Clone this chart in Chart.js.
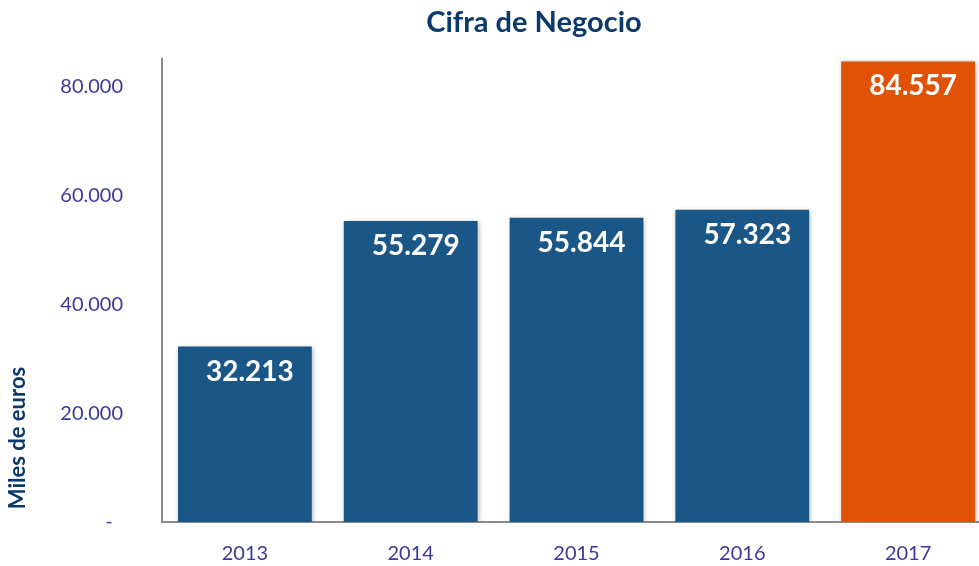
<!DOCTYPE html>
<html>
<head>
<meta charset="utf-8">
<script src="https://cdn.jsdelivr.net/npm/chart.js@4.4.1/dist/chart.umd.min.js"></script>
<style>
  html, body { margin: 0; padding: 0; overflow: hidden; background: #fff; }
  #wrap { position: relative; width: 1000px; height: 566px; overflow: hidden; }
  #chart { display: block; }
  #title {
    position: absolute; left: 0; top: 3px; width: 1068px; text-align: center;
    font: bold 29px Lato, sans-serif; color: #0b3a6a;
  }
</style>
</head>
<body>
<div id="wrap">
  <canvas id="chart" width="1000" height="566"></canvas>
  <div id="title">Cifra de Negocio</div>
</div>
<script>
/* Cifra de Negocio — miles de euros */

const years = ['2013', '2014', '2015', '2016', '2017'];
const revenue = [32213, 55279, 55844, 57323, 84557];
const barColors = ['#1a5686', '#1a5686', '#1a5686', '#1a5686', '#e05206'];
const yTicks = [0, 20000, 40000, 60000, 80000];

const fmt = v => v.toString().replace(/\B(?=(\d{3})+(?!\d))/g, '.');

const barShadow = {
  id: 'barShadow',
  beforeDatasetsDraw(chart) {
    const ctx = chart.ctx;
    ctx.save();
    ctx.shadowColor = 'rgba(0,0,0,0.35)';
    ctx.shadowBlur = 5;
    ctx.shadowOffsetX = 1;
    ctx.shadowOffsetY = 1;
  },
  afterDatasetsDraw(chart) {
    chart.ctx.restore();
  }
};

const valueLabels = {
  id: 'valueLabels',
  afterDatasetsDraw(chart) {
    const ctx = chart.ctx;
    const meta = chart.getDatasetMeta(0);
    ctx.save();
    ctx.fillStyle = '#fff';
    ctx.font = 'bold 28px Lato, sans-serif';
    ctx.textAlign = 'center';
    ctx.textBaseline = 'middle';
    meta.data.forEach((bar, i) => {
      ctx.fillText(fmt(revenue[i]), bar.x + 5, bar.y + 25);
    });
    ctx.restore();
  }
};

const yTitle = {
  id: 'yTitle',
  afterDraw(chart) {
    const ctx = chart.ctx;
    ctx.save();
    ctx.translate(18, 438);
    ctx.rotate(-Math.PI / 2);
    ctx.fillStyle = '#0b3a6a';
    ctx.font = 'bold 22px Lato, sans-serif';
    ctx.textAlign = 'center';
    ctx.textBaseline = 'middle';
    ctx.fillText('Miles de euros', 0, 0);
    ctx.restore();
  }
};

new Chart(document.getElementById('chart'), {
  type: 'bar',
  data: {
    labels: years,
    datasets: [{
      data: revenue,
      backgroundColor: barColors,
      borderWidth: 0,
      barPercentage: 0.807,
      categoryPercentage: 1
    }]
  },
  options: {
    responsive: false,
    animation: false,
    layout: { padding: { top: 59, right: 9, left: 0, bottom: 0 } },
    plugins: {
      legend: { display: false },
      title: { display: false },
      tooltip: { enabled: false }
    },
    scales: {
      x: {
        grid: { display: false, drawTicks: false },
        border: { display: true, color: '#8c8c8c', width: 2 },
        ticks: { color: '#3b3a9a', font: { size: 20, family: 'Lato' }, padding: 20 },
        afterFit: s => { s.height = 44; s.paddingLeft = 0; s.paddingRight = 0; }
      },
      y: {
        min: 0,
        max: 85000,
        grid: { display: false, drawTicks: false },
        border: { display: true, color: '#8c8c8c', width: 2 },
        afterBuildTicks: s => { s.ticks = yTicks.map(v => ({ value: v })); },
        ticks: {
          color: '#3b3a9a',
          font: { size: 20, family: 'Lato' },
          padding: 39,
          callback: v => v === 0 ? '-  ' : fmt(v)
        },
        afterFit: s => { s.width = 162; s.paddingTop = 0; s.paddingBottom = 0; }
      }
    }
  },
  plugins: [barShadow, valueLabels, yTitle]
});
</script>
</body>
</html>
